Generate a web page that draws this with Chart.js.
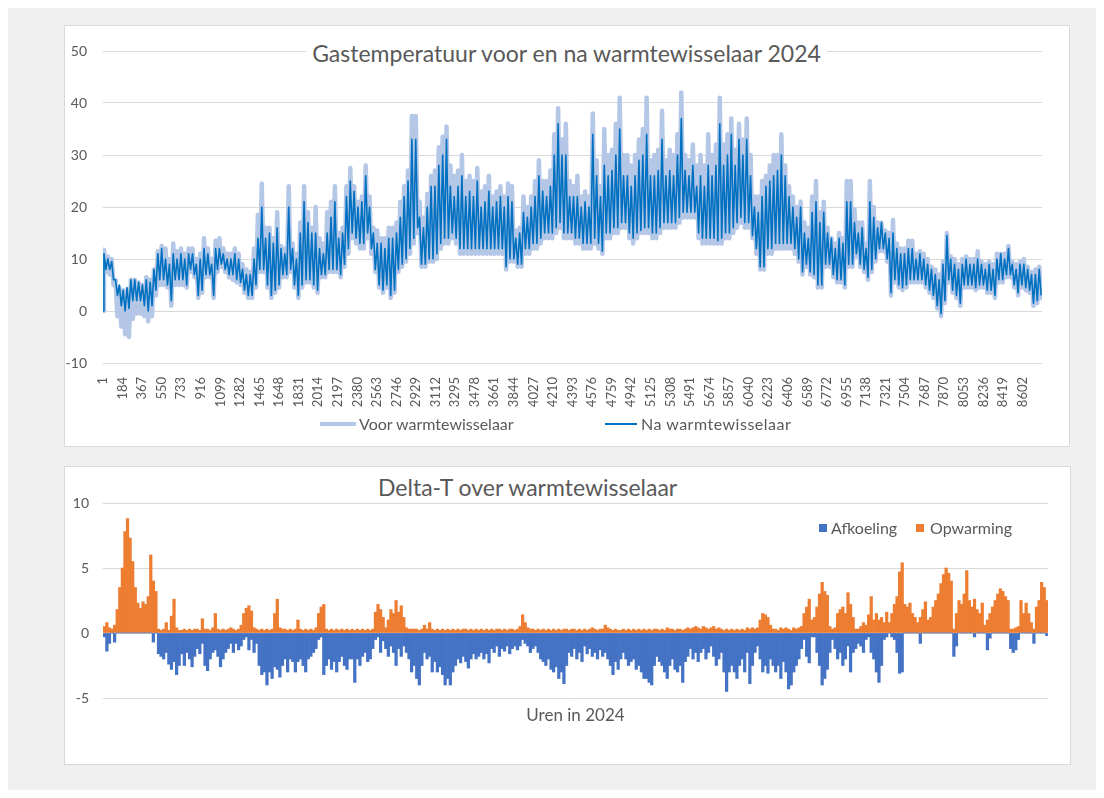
<!DOCTYPE html>
<html lang="nl">
<head>
<meta charset="utf-8">
<title>Gastemperatuur voor en na warmtewisselaar 2024</title>
<script src="https://cdn.jsdelivr.net/npm/chart.js@4.4.1/dist/chart.umd.min.js"></script>
<style>
  html, body { margin: 0; background: #fff; }
  body { width: 1104px; height: 798px; position: relative; overflow: hidden;
         font-family: Lato, "Open Sans", sans-serif; color: #595959; }
  .abs { position: absolute; }
  #sheet { left: 8px; top: 8px; width: 1088px; height: 782px; background: #f0f0f0; }
  .box { background: #fff; border: 1px solid #d9d9d9; box-sizing: border-box; }
  #boxTop { left: 64px; top: 25px; width: 1006px; height: 422px; }
  #boxBot { left: 64px; top: 466px; width: 1007px; height: 299px; }
  #cTop { left: 64px; top: 25px; }
  #cBot { left: 64px; top: 466px; }
  .title { font-size: 23px; line-height: 28px; white-space: nowrap; }
  .title span { background: #fff; padding: 0 6px; }
  #titleTop { left: 64px; top: 39px; width: 1005px; text-align: center; }
  #titleBot { left: 372px; top: 473px; }
  .lg { font-size: 16px; line-height: 20px; white-space: nowrap; }
  .sw { position: absolute; }
</style>
</head>
<body>
<div id="sheet" class="abs"></div>
<div id="boxTop" class="abs box"></div>
<div id="boxBot" class="abs box"></div>
<canvas id="cTop" class="abs" width="1005" height="421"></canvas>
<canvas id="cBot" class="abs" width="1006" height="298"></canvas>

<div id="titleTop" class="abs title"><span>Gastemperatuur voor en na warmtewisselaar 2024</span></div>
<div id="titleBot" class="abs title"><span>Delta-T over warmtewisselaar</span></div>

<div class="sw" style="left:320px;top:422px;width:36px;height:4px;background:#B4C7E7"></div>
<div class="abs lg" style="left:359px;top:414px">Voor warmtewisselaar</div>
<div class="sw" style="left:605px;top:423px;width:32px;height:2px;background:#0070C0"></div>
<div class="abs lg" style="left:641px;top:414px;letter-spacing:0.5px">Na warmtewisselaar</div>

<div class="sw" style="left:819px;top:524px;width:8px;height:8px;background:#4472C4"></div>
<div class="abs lg" style="left:831px;top:518px">Afkoeling</div>
<div class="sw" style="left:916px;top:524px;width:8px;height:8px;background:#ED7D31"></div>
<div class="abs lg" style="left:930px;top:518px">Opwarming</div>

<script>
/* Gastemperatuur + Delta-T 2024 — hourly data */

const HOURS = 8784;
const STEP = 36;            // hours per hi/lo pair in the top chart
const DAY = 24;             // hours per bar in the bottom chart
const START_VALUE = 0;      // hour 1 reads 0 in both series

const HOUR_TICKS = [1, 184, 367, 550, 733, 916, 1099, 1282, 1465, 1648, 1831, 2014,
  2197, 2380, 2563, 2746, 2929, 3112, 3295, 3478, 3661, 3844, 4027, 4210, 4393, 4576,
  4759, 4942, 5125, 5308, 5491, 5674, 5857, 6040, 6223, 6406, 6589, 6772, 6955, 7138,
  7321, 7504, 7687, 7870, 8053, 8236, 8419, 8602];

// Na warmtewisselaar: high / low per 36 h
const NA_HI = [
  11, 10, 9.5, 6, 5, 4, 4.5, 6, 6, 5.5,
  5, 6, 5.5, 8, 11, 12, 10, 9, 11, 10,
  11, 10, 11, 11, 9, 10, 12, 11, 9, 12,
  12, 11, 10, 10, 11, 10, 8, 7, 7, 10,
  14, 20, 14, 15, 13, 16, 12, 11, 20, 12,
  10, 15, 21, 17, 15, 15, 12, 11, 15, 18,
  21, 14, 15, 22, 25, 23, 20, 21, 26, 20,
  15, 13, 13, 12, 14, 14, 15, 18, 22, 25,
  33, 33, 18, 16, 20, 24, 24, 28, 30, 33,
  24, 22, 24, 26, 22, 23, 22, 25, 20, 21,
  23, 20, 21, 22, 20, 22, 21, 14, 15, 19,
  18, 20, 22, 26, 23, 22, 24, 30, 36, 30,
  30, 22, 22, 22, 20, 21, 20, 34, 26, 22,
  28, 26, 27, 30, 35, 26, 26, 24, 26, 29,
  30, 34, 26, 26, 27, 33, 26, 27, 26, 30,
  37, 27, 26, 28, 24, 26, 24, 28, 26, 28,
  36, 28, 30, 34, 28, 33, 30, 33, 26, 20,
  19, 22, 24, 25, 26, 27, 30, 26, 22, 20,
  18, 20, 15, 14, 19, 21, 17, 19, 15, 14,
  12, 14, 13, 21, 21, 17, 15, 16, 12, 21,
  18, 16, 17, 15, 14, 15, 12, 11, 11, 12,
  12, 10, 11, 10, 9, 8, 7, 6, 9, 14.5,
  10, 9, 8, 9, 10, 9, 9, 10, 9, 8,
  9, 8, 10, 11, 10, 12, 9, 8, 9, 9,
  8, 7, 7, 8];
const NA_LO = [
  8, 8, 6, 3, 1, 0, 0.5, 2, 2, 2,
  1, 0, 1, 4, 6, 6, 5, 2, 6, 6,
  6, 5, 8, 7, 3, 4, 7, 7, 3, 8,
  9, 8, 7, 7, 6, 5.5, 4, 3, 3, 5,
  8, 8, 5, 3, 4, 5, 7, 7, 8, 5,
  3, 5, 6, 6, 5, 4, 7, 7, 8, 8,
  8, 7, 9, 12, 15, 14, 13, 13, 15, 12,
  8, 5, 4, 5, 3, 4, 8, 9, 10, 12,
  14, 16, 9, 9, 10, 10, 11, 13, 14, 14,
  15, 14, 12, 12, 12, 12, 12, 12, 12, 12,
  12, 12, 12, 12, 8.5, 10, 10, 9, 9, 12,
  12, 13, 13, 14, 15, 15, 15, 16, 17, 15,
  15, 15, 14, 14, 13, 13, 13, 14, 13, 11.5,
  15, 15, 16, 16, 17, 17, 15, 14, 15, 15.5,
  16, 16, 15, 15, 16, 17, 17, 17, 17, 18,
  19, 19, 19, 19, 15, 14, 14, 14, 14, 13.5,
  14, 15, 15, 16, 17, 18, 17, 17, 14.5, 12,
  8.5, 8.5, 12, 12, 13, 13, 13, 13, 13, 12,
  10, 7.5, 9, 7.5, 7, 5, 5, 9, 9, 7,
  6, 6, 5, 9, 9, 11, 9, 8, 6.5, 8,
  10, 12, 12, 10, 3.5, 6, 5, 4.5, 5, 6,
  6, 6, 6, 5, 4, 3, 1, -0.5, 2, 6,
  4, 3, 1.5, 5, 5, 5, 4.5, 5, 5, 4,
  4, 3, 6, 6, 7, 7, 5, 3.5, 5, 4.5,
  4, 1.5, 2, 3];

// Voor warmtewisselaar: high / low per 36 h
const VOOR_HI = [
  11.8, 10.5, 10, 6, 4.5, 4, 4, 6, 6, 5.5,
  5, 6.5, 6, 8, 11.5, 12.5, 12, 10, 13, 11.5,
  12, 11, 12, 12, 10, 11, 14, 12, 10, 13.5,
  14, 12, 11, 11, 12, 11, 9, 8, 7.5, 12,
  18.5, 24.5, 16, 16, 14, 19, 12.5, 12, 24, 13,
  11, 17, 24, 19, 16, 20, 14, 13, 19, 21,
  24, 15, 16, 24, 27.5, 24, 21, 22, 28, 22,
  16, 15.5, 14, 14, 16, 16, 17, 21, 24, 27,
  37.5, 37.5, 21, 18, 22.5, 26, 27, 31.5, 33.5, 35.5,
  28, 26, 27, 30, 25, 26, 25, 27.5, 23, 24,
  26, 22, 23, 24, 22, 24.5, 24, 15.5, 16, 22,
  20, 22, 25, 29, 25, 25, 27, 34, 39, 33,
  36, 25, 24, 26, 22, 23, 22, 38, 29, 24,
  35, 30, 31, 36, 41, 30, 30, 28, 30, 33,
  35, 41, 29, 30, 31, 38.5, 29, 31, 30, 34,
  42, 30, 29, 32, 28, 30, 28, 34, 30, 32,
  41, 32, 34, 37, 31, 36, 33, 37, 30, 22,
  22, 25, 26, 28, 30, 30, 34, 28, 24, 22,
  20, 21, 17, 16, 22, 25, 19, 21, 16, 14,
  13, 15, 14, 25, 25, 19.5, 17, 17, 13, 25,
  20, 17, 17, 15.5, 15, 17.5, 13, 12, 12, 13.5,
  13.5, 11, 11.5, 11, 10, 8.5, 8, 7, 9.5, 15,
  10.5, 10, 9, 10, 10.5, 10, 10, 11.5, 9.5, 9,
  9.5, 9, 11, 11, 11, 12.5, 9.5, 9, 9.5, 10,
  8.5, 7.5, 8, 8.5];
const VOOR_LO = [
  7.5, 7, 5, -1, -3, -4.5, -5, -1.5, -0.5, -0.5,
  -1, -2, -1, 3, 5, 5, 4.5, 1, 5, 5,
  5, 4.5, 7.5, 6.5, 2.5, 3.5, 6.5, 6.5, 2.5, 7.5,
  8.5, 7.5, 6.5, 6, 5.5, 5, 3.5, 2.5, 2.5, 4.5,
  7.5, 7.5, 4.5, 2.5, 3.5, 4.5, 6.5, 6.5, 7.5, 4.5,
  2.5, 4.5, 5.5, 5.5, 4.5, 3.5, 6.5, 6.5, 7.5, 7.5,
  7.5, 6.5, 8.5, 11, 14, 13, 12, 12, 14, 11,
  7.5, 4.5, 3.5, 4.5, 2.5, 3.5, 7.5, 8.5, 9.5, 11,
  13, 15, 8.5, 8.5, 9.5, 9.5, 10, 12, 13, 13,
  14, 13, 11, 11, 11, 11, 11, 11, 11, 11,
  11, 11, 11, 11, 8, 9.5, 9.5, 8.5, 8.5, 11,
  11, 12, 12, 13, 14, 14, 14, 15, 16, 14,
  14, 14, 13, 13, 12, 12, 12, 13, 12, 11,
  14, 14, 15, 15, 16, 16, 14, 13, 14, 15,
  15, 15, 14, 14, 15, 16, 16, 16, 16, 17,
  18, 18, 18, 18, 14, 13, 13, 13, 13, 13,
  13, 14, 14, 15, 16, 17, 16, 16, 14, 11,
  8, 8, 11, 11, 12, 12, 12, 12, 12, 11,
  9.5, 7, 8.5, 7, 6.5, 4.5, 4.5, 8.5, 8.5, 6.5,
  5.5, 5.5, 4.5, 8.5, 8.5, 10.5, 8.5, 7.5, 6, 7.5,
  9.5, 11.5, 11.5, 9.5, 3, 5.5, 4.5, 4, 4.5, 5.5,
  5.5, 5.5, 5.5, 4.5, 3.5, 2.5, 0.5, -1, 1.5, 5.5,
  3.5, 2.5, 1, 4.5, 4.5, 4.5, 4, 4.5, 4.5, 3.5,
  3.5, 2.5, 5.5, 5.5, 6.5, 6.5, 4.5, 3, 4.5, 4,
  3.5, 1, 1.5, 2.5];

// Delta-T: daily peak warming (positive) and cooling (negative)
const OPWARMING = [
  0.5, 0.8, 0.4, 0.3, 0.6, 1.8, 3.5, 5.0, 7.8, 8.8,
  7.3, 5.5, 3.5, 2.3, 1.9, 2.4, 2.2, 2.8, 6.0, 4.0,
  3.2, 0.3, 0.2, 0.3, 0.8, 0.2, 1.3, 2.6, 0.4, 0.2,
  0.2, 0.3, 0.2, 0.3, 0.2, 0.3, 0.3, 0.2, 1.1, 0.3,
  0.3, 0.2, 0.4, 1.5, 0.3, 0.2, 0.3, 0.2, 0.3, 0.4,
  0.3, 0.2, 0.3, 0.6, 1.5, 1.9, 2.1, 1.7, 0.4, 0.3,
  0.2, 0.3, 0.2, 0.3, 0.2, 0.3, 1.5, 2.6, 0.4, 0.3,
  0.3, 0.2, 0.3, 0.2, 0.3, 1.0, 0.3, 0.2, 0.3, 0.2,
  0.3, 0.2, 0.4, 1.5, 2.0, 2.2, 0.3, 0.2, 0.3, 0.2,
  0.3, 0.2, 0.3, 0.2, 0.3, 0.2, 0.3, 0.2, 0.3, 0.2,
  0.3, 0.2, 0.3, 0.2, 0.3, 1.6, 2.2, 1.8, 1.2, 0.4,
  1.0, 1.8, 1.5, 2.5, 1.6, 2.1, 1.2, 0.4, 0.3, 0.3,
  0.3, 0.3, 0.2, 0.3, 0.6, 0.3, 0.8, 0.3, 0.2, 0.3,
  0.2, 0.3, 0.2, 0.3, 0.2, 0.3, 0.2, 0.3, 0.2, 0.3,
  0.3, 0.2, 0.3, 0.2, 0.3, 0.2, 0.3, 0.2, 0.3, 0.2,
  0.3, 0.2, 0.3, 0.3, 0.2, 0.3, 0.2, 0.3, 0.3, 0.2,
  0.3, 0.5, 1.4, 0.8, 0.4, 0.3, 0.3, 0.2, 0.3, 0.2,
  0.3, 0.2, 0.3, 0.2, 0.3, 0.2, 0.3, 0.2, 0.3, 0.3,
  0.2, 0.3, 0.3, 0.2, 0.3, 0.2, 0.3, 0.2, 0.3, 0.4,
  0.3, 0.2, 0.3, 0.3, 0.6, 0.4, 0.3, 0.2, 0.3, 0.2,
  0.2, 0.3, 0.2, 0.3, 0.2, 0.3, 0.2, 0.3, 0.2, 0.3,
  0.2, 0.3, 0.2, 0.3, 0.3, 0.2, 0.3, 0.2, 0.4, 0.3,
  0.3, 0.2, 0.3, 0.3, 0.2, 0.3, 0.4, 0.3, 0.4, 0.5,
  0.4, 0.3, 0.5, 0.4, 0.3, 0.4, 0.5, 0.3, 0.4, 0.3,
  0.2, 0.3, 0.2, 0.3, 0.2, 0.3, 0.2, 0.3, 0.2, 0.4,
  0.3, 0.4, 0.3, 0.4, 1.0, 1.5, 1.4, 1.2, 0.6, 0.3,
  0.3, 0.2, 0.4, 0.3, 0.4, 0.3, 0.2, 0.4, 0.3, 0.4,
  0.5, 1.5, 2.0, 2.6, 1.0, 1.2, 2.0, 3.0, 3.9, 3.2,
  2.9, 0.5, 0.3, 0.4, 1.5, 1.8, 2.0, 1.5, 3.1, 2.2,
  1.2, 0.3, 0.3, 0.5, 0.8, 0.6, 1.4, 2.8, 1.0, 1.5,
  1.0, 1.2, 0.8, 1.6, 0.8, 1.5, 2.2, 2.8, 4.7, 5.4,
  2.2, 2.0, 2.3, 1.5, 1.2, 0.8, 1.2, 1.8, 2.4, 1.0,
  1.2, 2.0, 2.5, 3.0, 3.8, 4.5, 5.0, 4.6, 4.0, 0.3,
  1.5, 2.5, 2.2, 3.0, 4.8, 2.5, 2.0, 2.6, 1.8, 1.5,
  2.3, 0.6, 1.0, 1.5, 2.0, 2.5, 3.0, 3.4, 3.2, 2.8,
  2.5, 0.3, 0.3, 0.4, 0.5, 2.5, 1.5, 2.3, 1.5, 0.8,
  0.3, 2.0, 2.5, 3.9, 3.5, 2.5];
const AFKOELING = [
  -0.3, -1.4, -0.8, 0, -0.7, 0, 0, 0, 0, 0,
  0, 0, 0, 0, 0, 0, 0, 0, 0, -0.7,
  0, -1.6, -1.8, -2.0, -1.5, -2.4, -2.8, -2.2, -3.2, -2.5,
  -1.6, -2.5, -1.5, -2.0, -2.6, -1.8, -1.2, -1.6, -0.8, -2.5,
  -2.9, -2.0, -1.5, -1.3, -1.8, -2.6, -2.0, -1.5, -1.2, -0.8,
  -1.5, -0.8, -1.3, -1.0, -0.5, -0.3, -1.3, -0.5, -1.5, -0.8,
  -2.5, -3.2, -3.0, -4.0, -3.0, -3.5, -2.6, -2.8, -3.4, -2.5,
  -2.0, -3.0, -2.0, -2.2, -3.0, -2.2, -2.0, -2.5, -3.0, -2.0,
  -1.8, -1.5, -1.2, -0.5, -0.3, -3.2, -2.5, -2.0, -2.8, -2.2,
  -3.0, -2.2, -1.8, -2.5, -2.8, -2.0, -2.0, -3.8, -2.0, -2.5,
  -1.8, -1.5, -2.2, -2.0, -1.2, -0.5, -0.3, -1.5, -0.6, -1.2,
  -1.8, -1.0, -1.5, -2.5, -1.2, -1.8, -1.0, -1.5, -2.0, -3.0,
  -2.5, -3.5, -4.0, -2.5, -1.5, -2.0, -1.8, -3.0, -2.2, -3.0,
  -2.6, -3.2, -4.0, -3.5, -4.0, -3.0, -2.5, -2.0, -2.3, -1.8,
  -2.2, -2.7, -2.0, -1.6, -2.0, -1.8, -1.5, -2.0, -1.6, -2.3,
  -1.2, -1.5, -1.0, -1.8, -1.2, -1.4, -1.0, -1.6, -1.2, -1.0,
  -1.3, -1.0, -0.5, -0.8, -1.0, -1.5, -1.2, -1.0, -1.5, -2.0,
  -2.2, -2.5, -2.0, -2.8, -3.0, -2.6, -3.5, -3.0, -3.9, -2.5,
  -1.5, -1.8, -1.2, -2.0, -1.5, -2.2, -1.0, -1.6, -1.2, -1.8,
  -1.5, -2.0, -1.3, -1.8, -1.5, -2.0, -2.5, -3.2, -2.2, -2.8,
  -2.0, -1.5, -2.0, -2.5, -2.2, -2.0, -2.8, -2.5, -3.0, -3.5,
  -3.5, -3.8, -4.0, -2.5, -1.8, -2.2, -2.5, -3.0, -3.5, -2.5,
  -2.0, -2.8, -3.0, -2.5, -3.8, -2.2, -1.8, -1.2, -2.0, -1.5,
  -2.2, -1.5, -1.2, -2.0, -1.5, -1.0, -1.8, -2.5, -2.0, -1.5,
  -3.0, -4.5, -3.0, -2.5, -3.0, -3.5, -2.5, -2.0, -3.0, -1.5,
  -3.9, -2.5, -1.5, -1.0, -2.0, -3.0, -2.5, -3.1, -2.0, -2.5,
  -3.0, -2.5, -3.5, -2.2, -3.0, -4.3, -4.0, -3.0, -2.5, -2.0,
  -1.2, -0.5, -1.8, -2.3, -0.3, -0.3, -1.5, -2.5, -4.0, -3.5,
  -2.8, -1.5, -0.5, -1.2, -2.0, -1.5, -2.5, -2.0, -1.0, -3.0,
  -1.5, -1.2, -0.8, -1.0, -1.5, -0.5, -0.3, -1.5, -2.0, -3.0,
  -3.8, -2.5, -0.5, -0.3, 0, -0.3, -0.5, -1.5, -3.1, -3.0,
  0, 0, 0, 0, 0, 0, -0.8, 0, 0, 0,
  0, 0, 0, 0, 0, 0, 0, 0, 0, -1.8,
  -1.0, 0, 0, 0, 0, 0, 0, -0.3, 0, 0,
  0, 0, -1.3, -0.4, 0, 0, 0, 0, 0, 0,
  0, -1.2, -1.5, -1.3, -0.5, 0, 0, 0, 0, 0,
  -0.8, 0, 0, 0, 0, -0.2];

const INK = "#595959";
const GRID = "#d9d9d9";
Chart.defaults.font.family = "Lato, 'Open Sans', sans-serif";
Chart.defaults.color = INK;

// hi then lo inside each 36 h block
function zigzag(hi, lo) {
  const pts = [{ x: 1, y: START_VALUE }];
  hi.forEach((h, i) => {
    pts.push({ x: 1 + i * STEP + STEP / 4, y: h });
    pts.push({ x: 1 + i * STEP + (3 * STEP) / 4, y: lo[i] });
  });
  return pts;
}
const daily = (arr) => arr.map((v, d) => ({ x: 1 + d * DAY + DAY / 2, y: v }));

/* ---------- top: temperatures ---------- */
new Chart(document.getElementById("cTop"), {
  type: "line",
  data: {
    datasets: [
      { label: "Voor warmtewisselaar", data: zigzag(VOOR_HI, VOOR_LO), order: 1,
        borderColor: "#B4C7E7", borderWidth: 4.5, borderJoinStyle: "round",
        borderCapStyle: "round", pointRadius: 0, tension: 0, fill: false },
      { label: "Na warmtewisselaar", data: zigzag(NA_HI, NA_LO), order: 0,
        borderColor: "#0070C0", borderWidth: 1.6, borderJoinStyle: "round",
        pointRadius: 0, tension: 0, fill: false },
    ],
  },
  options: {
    responsive: false, animation: false,
    layout: { padding: { left: 0, right: 27, top: 26, bottom: 0 } },
    plugins: { legend: { display: false }, tooltip: { enabled: false } },
    scales: {
      x: {
        type: "linear", min: 1, max: HOURS,
        grid: { display: false }, border: { display: false },
        afterBuildTicks: (s) => { s.ticks = HOUR_TICKS.map((v) => ({ value: v })); },
        afterFit: (s) => { s.height = 83; },
        ticks: { autoSkip: false, maxRotation: 90, minRotation: 90, padding: 6,
                 font: { size: 13 }, callback: (v) => String(v) },
      },
      y: {
        min: -10, max: 50,
        grid: { color: GRID, drawTicks: false }, border: { display: false },
        afterFit: (s) => { s.width = 39; },
        ticks: { stepSize: 10, padding: 16, font: { size: 14 } },
      },
    },
  },
});

/* ---------- bottom: delta-T ---------- */
new Chart(document.getElementById("cBot"), {
  type: "bar",
  data: {
    datasets: [
      { label: "Afkoeling", data: daily(AFKOELING), backgroundColor: "#4472C4",
        grouped: false, barPercentage: 1, categoryPercentage: 1 },
      { label: "Opwarming", data: daily(OPWARMING), backgroundColor: "#ED7D31",
        grouped: false, barPercentage: 1, categoryPercentage: 1 },
    ],
  },
  options: {
    responsive: false, animation: false,
    layout: { padding: { left: 0, right: 22, top: 37, bottom: 0 } },
    plugins: { legend: { display: false }, tooltip: { enabled: false } },
    scales: {
      x: {
        type: "linear", min: 1, max: HOURS, offset: false,
        grid: { display: false }, border: { display: false },
        ticks: { display: false },
        afterFit: (s) => { s.height = 66; },
        title: { display: true, text: "Uren in 2024", color: INK,
                 font: { size: 17 }, padding: { top: 0, bottom: 38 } },
      },
      y: {
        min: -5, max: 10,
        grid: { color: GRID, drawTicks: false }, border: { display: false },
        afterFit: (s) => { s.width = 39; },
        ticks: { stepSize: 5, padding: 14, font: { size: 14 } },
      },
    },
  },
});
</script>
</body>
</html>
